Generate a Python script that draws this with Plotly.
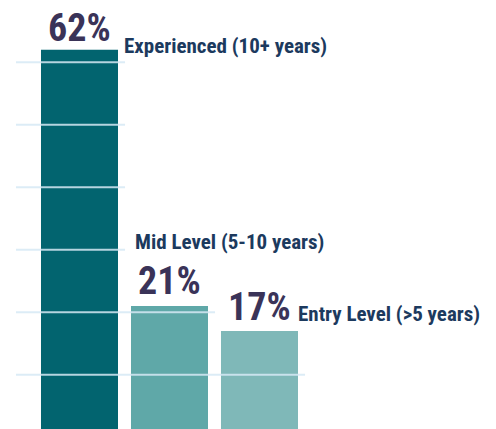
import plotly.graph_objects as go

# ---- data ----
categories = ["Experienced (10+ years)", "Mid Level (5-10 years)", "Entry Level (>5 years)"]
values = [62, 21, 17]
value_labels = ["62%", "21%", "17%"]
grid_levels = [10, 20, 30, 40, 50, 60]

bar_colors = ["#02646F", "#5FA8A8", "#7FB8B8"]
num_color = "#3A3358"
cat_color = "#1C3A5E"
grid_color = "rgba(214,233,245,0.85)"
FONT = "Roboto Condensed, Open Sans Condensed, DejaVu Sans Condensed, sans-serif"

xs = list(range(len(values)))
bar_w = 0.8556
PX = 90  # pixels per x unit

fig = go.Figure()
fig.add_trace(go.Bar(
    x=xs, y=values, width=bar_w,
    marker=dict(color=bar_colors, line=dict(width=0)),
    hoverinfo="skip",
))

# gridlines: extend to the last bar that rises above the level
shapes = []
for g in grid_levels:
    above = [i for i, v in enumerate(values) if v > g]
    last = max(above) if above else 0
    shapes.append(dict(
        type="line", xref="x", yref="y",
        x0=-0.7056, x1=last + bar_w / 2 + 0.078, y0=g, y1=g,
        line=dict(color=grid_color, width=2), layer="above",
    ))

annotations = []
num_yshift = [-2, 1, 0]
for i, (v, t) in enumerate(zip(values, value_labels)):
    annotations.append(dict(
        x=i, y=v, xref="x", yref="y", text=t, showarrow=False,
        xanchor="center", yanchor="bottom", yshift=num_yshift[i],
        font=dict(family=FONT, size=38, color=num_color, weight="bold"),
    ))

cat_pos = [
    dict(x=0, y=values[0], xshift=bar_w / 2 * PX + 4, yshift=-10.5),
    dict(x=1, y=values[1], xshift=-bar_w / 2 * PX + 2, yshift=49.5),
    dict(x=2, y=values[2], xshift=bar_w / 2 * PX - 2, yshift=3),
]
for c, p in zip(categories, cat_pos):
    annotations.append(dict(
        x=p["x"], y=p["y"], xref="x", yref="y", text=c, showarrow=False,
        xanchor="left", yanchor="bottom", xshift=p["xshift"], yshift=p["yshift"],
        font=dict(family=FONT, size=21, color=cat_color, weight="bold"),
    ))

fig.update_layout(
    width=488, height=421,
    margin=dict(l=0, r=0, t=0, b=0),
    paper_bgcolor="white", plot_bgcolor="white",
    showlegend=False,
    xaxis=dict(range=[-0.7944, 4.6278], visible=False, fixedrange=True),
    yaxis=dict(range=[1.312, 68.67], visible=False, fixedrange=True),
    shapes=shapes, annotations=annotations,
)

fig.write_html("out.html")
